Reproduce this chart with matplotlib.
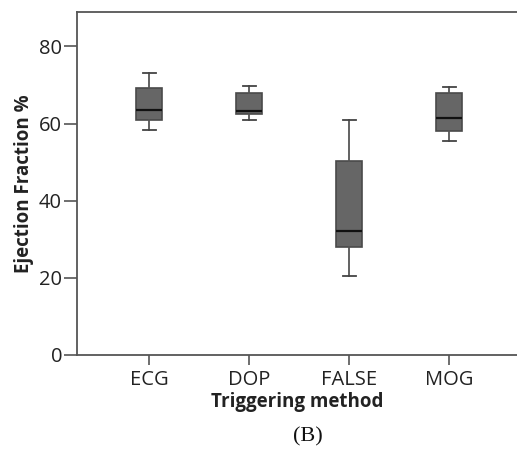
import matplotlib
matplotlib.use("Agg")
import matplotlib.pyplot as plt

categories = ["ECG", "DOP", "FALSE", "MOG"]
whisker_low = [58.2, 60.8, 20.6, 55.4]
q1 = [60.9, 62.4, 27.9, 58.1]
medians = [63.5, 63.3, 32.1, 61.3]
q3 = [69.3, 67.9, 50.3, 67.8]
whisker_high = [73.1, 69.7, 60.9, 69.4]
yticks = [0, 20, 40, 60, 80]

W, H = 517, 449
fig = plt.figure(figsize=(W / 100, H / 100), dpi=100)
ax = fig.add_axes([76.7 / W, (H - 355) / H, 1 - 76.7 / W, (355 - 12) / H])

stats = []
for i, c in enumerate(categories):
    stats.append(dict(label=c, whislo=whisker_low[i], q1=q1[i], med=medians[i],
                      q3=q3[i], whishi=whisker_high[i], fliers=[]))

positions = list(range(1, len(categories) + 1))
ax.bxp(stats, positions=positions, widths=0.26, patch_artist=True, showfliers=False,
       boxprops=dict(facecolor="#666666", edgecolor="#4a4a4a", linewidth=1.2),
       medianprops=dict(color="#111111", linewidth=1.6),
       whiskerprops=dict(color="#555555", linewidth=1.3),
       capprops=dict(color="#444444", linewidth=1.3),
       capwidths=0.13)

ax.set_xlim(0.277, 4.68)
ax.set_ylim(0, 88.9)
ax.set_yticks(yticks)
ax.set_xticks(positions)
ax.set_xticklabels(categories)

font = ["Open Sans", "DejaVu Sans"]
for lab in ax.get_xticklabels() + ax.get_yticklabels():
    lab.set_fontfamily(font)
    lab.set_fontsize(14.5)
    lab.set_color("#222222")

for s in ["left", "bottom", "top"]:
    ax.spines[s].set_color("#555555")
    ax.spines[s].set_linewidth(1.3)
ax.spines["right"].set_visible(False)
ax.tick_params(axis="y", length=9.5, width=1.2, color="#555555", pad=1)
ax.tick_params(axis="x", length=7.5, width=1.2, color="#555555", pad=3)

ax.set_ylabel("Ejection Fraction %", fontsize=13.5, fontweight="bold", family=font,
              color="#222222", labelpad=4)
ax.set_xlabel("Triggering method", fontsize=13.5, fontweight="bold", family=font,
              color="#222222", labelpad=2)

fig.text(308 / W, 1 - 437 / H, "(B)", ha="center", va="center",
         fontsize=16, family=["Liberation Serif", "DejaVu Serif"], color="#111111")

fig.savefig("out.png", dpi=100)
